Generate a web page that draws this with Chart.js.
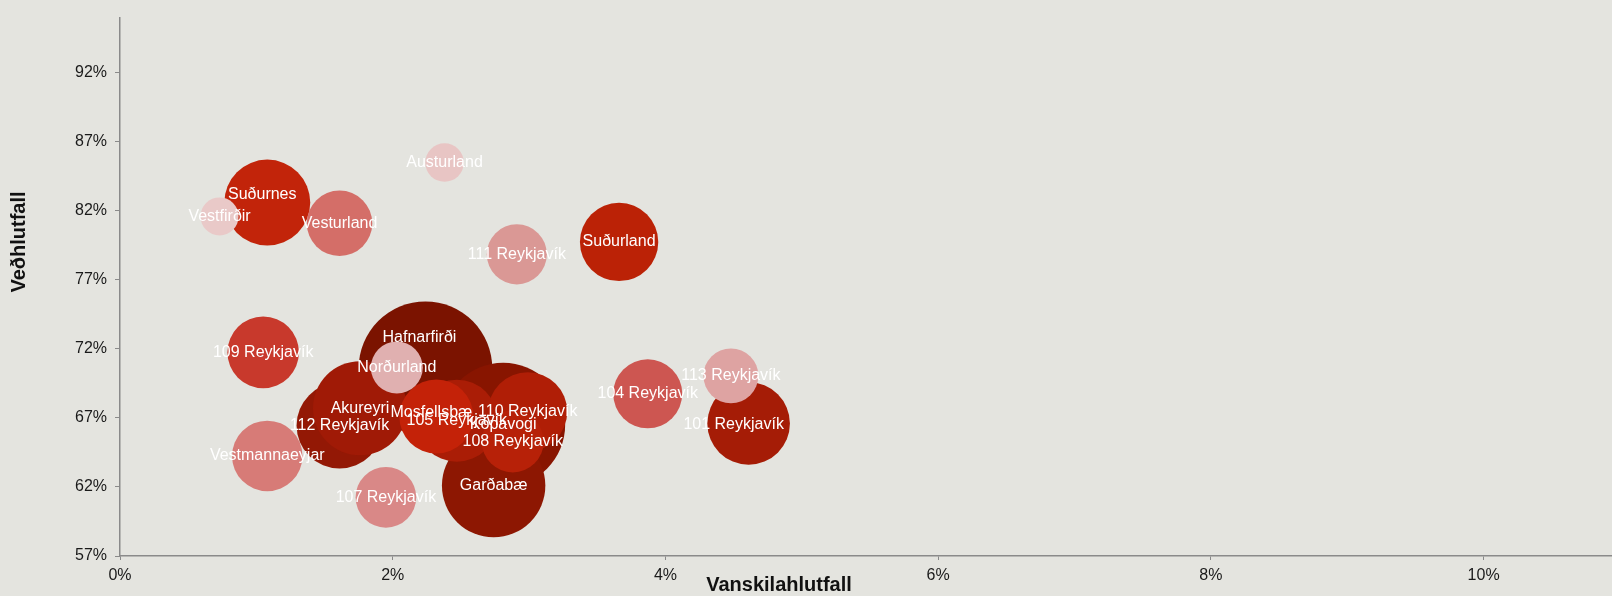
<!DOCTYPE html>
<html>
<head>
<meta charset="utf-8">
<script src="https://cdn.jsdelivr.net/npm/chart.js@4.4.1/dist/chart.umd.min.js"></script>
<style>
  html, body { margin: 0; padding: 0; background: #e4e4df; overflow: hidden; }
</style>
</head>
<body>
<canvas id="c" width="1620" height="596"></canvas>
<script>
// Svæði (drawing order: back to front)
const svaedi = [
  "Hafnarfirði", "Kópavogi", "Garðabæ", "112 Reykjavík", "Akureyri",
  "105 Reykjavík", "Mosfellsbæ", "110 Reykjavík", "108 Reykjavík", "Norðurland",
  "Suðurnes", "Vestfirðir", "Vesturland", "101 Reykjavík", "113 Reykjavík",
  "Suðurland", "104 Reykjavík", "109 Reykjavík", "Vestmannaeyjar", "107 Reykjavík",
  "111 Reykjavík", "Austurland"
];
// Vanskilahlutfall (%)
const vanskil = [
  2.24, 2.81, 2.74, 1.61, 1.76,
  2.47, 2.32, 2.99, 2.88, 2.03,
  1.08, 0.73, 1.61, 4.61, 4.48,
  3.66, 3.87, 1.05, 1.08, 1.95,
  2.91, 2.38
];
// Veðhlutfall (%)
const vedhlutfall = [
  70.6, 66.5, 62.1, 66.45, 67.7,
  66.8, 67.1, 67.45, 65.3, 70.65,
  82.6, 81.6, 81.1, 66.6, 70.05,
  79.75, 68.75, 71.75, 64.25, 61.25,
  78.85, 85.5
];
// Stærð (relative weight)
const staerd = [
  1000, 861, 599, 414, 495,
  377, 307, 350, 215, 151,
  414, 81, 240, 382, 169,
  344, 267, 287, 278, 206,
  202, 83
];
const litir = [
  "#7b1300", "#881500", "#8d1702", "#931805", "#a01a06",
  "#aa1d06", "#c42208", "#b01e06", "#b72108", "#e0b0b0",
  "#c2240a", "#e9c9c8", "#d46e68", "#a51c06", "#dea3a2",
  "#bb2206", "#cd5651", "#c8392c", "#d77b77", "#d98887",
  "#da9895", "#e8c5c4"
];
const xTicks = [0, 2, 4, 6, 8, 10];
const yTicks = [57, 62, 67, 72, 77, 82, 87, 92];

// labels moved by hand in the original
const labelShift = {
  "Hafnarfirði": [-6, -31],
  "Suðurnes": [-5, -8],
  "101 Reykjavík": [-15, 1],
  "Mosfellsbæ": [-5, -4]
};

const punktar = svaedi.map((n, i) => ({
  x: vanskil[i],
  y: vedhlutfall[i],
  r: 66.8 * Math.sqrt(staerd[i] / 1000)
}));

const merkingar = {
  id: "merkingar",
  afterDatasetsDraw(chart) {
    const ctx = chart.ctx;
    const meta = chart.getDatasetMeta(0);
    ctx.save();
    ctx.font = "16px 'Liberation Sans', Arial, sans-serif";
    ctx.fillStyle = "#ffffff";
    ctx.textAlign = "center";
    ctx.textBaseline = "middle";
    meta.data.forEach((el, i) => {
      const s = labelShift[svaedi[i]] || [0, 0];
      ctx.fillText(svaedi[i], el.x + s[0], el.y + s[1]);
    });
    ctx.restore();
  }
};

const asaTitlar = {
  id: "asaTitlar",
  afterDraw(chart) {
    const ctx = chart.ctx;
    ctx.save();
    ctx.font = "bold 20px 'Liberation Sans', Arial, sans-serif";
    ctx.fillStyle = "#111";
    ctx.textAlign = "center";
    ctx.textBaseline = "middle";
    ctx.fillText("Vanskilahlutfall", 779, 585);
    ctx.translate(19, 242);
    ctx.rotate(-Math.PI / 2);
    ctx.fillText("Veðhlutfall", 0, 0);
    ctx.restore();
  }
};

const asStill = {
  grid: { display: true, drawOnChartArea: false, drawTicks: true, color: "#8a8a8a" },
  border: { display: true, color: "#8a8a8a", width: 1.5 }
};

new Chart(document.getElementById("c").getContext("2d"), {
  type: "bubble",
  data: {
    datasets: [{
      data: punktar,
      backgroundColor: litir,
      borderWidth: 0,
      hoverBorderWidth: 0,
      clip: false
    }]
  },
  options: {
    responsive: false,
    animation: false,
    layout: { autoPadding: false, padding: { top: 9, left: 0, right: 0, bottom: 0 } },
    plugins: {
      legend: { display: false },
      tooltip: { enabled: false },
      title: { display: false }
    },
    scales: {
      x: {
        type: "linear",
        min: 0,
        max: 11,
        offset: false,
        grid: { ...asStill.grid, tickLength: 4 },
        border: asStill.border,
        afterBuildTicks: (s) => { s.ticks = xTicks.map(v => ({ value: v })); },
        afterFit: (s) => { s.height = 40; },
        ticks: {
          color: "#1a1a1a",
          padding: 6,
          maxRotation: 0,
          font: { family: "'Liberation Sans', Arial, sans-serif", size: 16 },
          callback: (v) => v + "%"
        }
      },
      y: {
        type: "linear",
        min: 57,
        max: 96,
        offset: false,
        grid: { ...asStill.grid, tickLength: 5 },
        border: asStill.border,
        afterBuildTicks: (s) => { s.ticks = yTicks.map(v => ({ value: v })); },
        afterFit: (s) => { s.width = 120; },
        ticks: {
          color: "#1a1a1a",
          padding: 8,
          font: { family: "'Liberation Sans', Arial, sans-serif", size: 16 },
          callback: (v) => v + "%"
        }
      }
    }
  },
  plugins: [merkingar, asaTitlar]
});
</script>
</body>
</html>
